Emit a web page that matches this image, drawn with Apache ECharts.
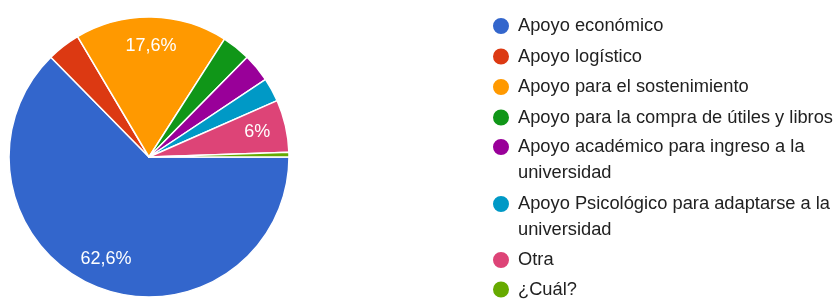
<!DOCTYPE html>
<html>
<head>
<meta charset="utf-8">
<script src="https://cdn.jsdelivr.net/npm/echarts@6/dist/echarts.min.js"></script>
<style>
 html, body { margin: 0; padding: 0; background: #fff; }
 #pie-chart { width: 838px; height: 300px; }
</style>
</head>
<body>
<div id="pie-chart"></div>
<script>
// respuestas por opción
const categories = [
 'Apoyo económico',
 'Apoyo logístico',
 'Apoyo para el sostenimiento',
 'Apoyo para la compra de útiles y libros',
 'Apoyo académico para ingreso a la universidad',
 'Apoyo Psicológico para adaptarse a la universidad',
 'Otra',
 '¿Cuál?'
]
const counts = [114, 7, 32, 6, 6, 5, 11, 1]
const colors = ['#3366cc', '#dc3912', '#ff9900', '#109618', '#990099', '#0099c6', '#dd4477', '#66aa00']

const pieData = categories.map((name, i) => ({ name: name, value: counts[i] }))
const FONT = '"Liberation Sans", Arial, sans-serif'

const fmtPercent = (p) => {
 if (p.percent < 5) return ''
 const v = Math.round(p.percent * 10) / 10
 return String(v).replace('.', ',') + '%'
}

// leyenda partida en bloques para que las entradas de dos líneas
// queden con el círculo junto a la primera línea
const makeLegend = (names, top, gap) => {
 return {
  orient: 'vertical',
  left: 491,
  top: top,
  height: 120,
  padding: 0,
  itemWidth: 18,
  itemHeight: 18,
  itemGap: gap,
  icon: 'circle',
  selectedMode: false,
  formatter: function (name) {
   if (name.indexOf(' a la universidad') >= 0) {
    return '\n' + name.replace(' a la universidad', ' a la\nuniversidad')
   }
   return name
  },
  textStyle: {
   fontFamily: FONT,
   fontSize: 18.3,
   lineHeight: 26,
   color: '#212121',
   padding: [0, 0, 0, 3]
  },
  data: names
 }
}

const setOption = () => {
 return {
  color: colors,
  animation: false,
  legend: [
   makeLegend(categories.slice(0, 4), 13, 4.5),
   makeLegend(categories.slice(4, 5), 108, 4),
   makeLegend(categories.slice(5, 6), 165, 4),
   makeLegend(categories.slice(6, 8), 247, 3.5)
  ],
  series: [
   {
    type: 'pie',
    center: [149, 157],
    radius: 140,
    startAngle: 0,
    clockwise: true,
    silent: true,
    label: { show: false },
    labelLine: { show: false },
    itemStyle: {
     borderColor: '#ffffff',
     borderWidth: 1.5
    },
    data: pieData
   },
   {
    // capa transparente solo para colocar las etiquetas
    type: 'pie',
    center: [149, 157],
    radius: [76, 140],
    startAngle: 0,
    clockwise: true,
    silent: true,
    itemStyle: { color: 'transparent', borderWidth: 0 },
    label: {
     show: true,
     position: 'inside',
     color: '#ffffff',
     fontFamily: FONT,
     fontSize: 18,
     formatter: fmtPercent
    },
    labelLine: { show: false },
    data: pieData
   }
  ]
 }
}

const chartDom = document.getElementById('pie-chart')
const myChart = echarts.init(chartDom)
myChart.setOption(setOption(), true)
window.addEventListener('resize', function () {
 myChart.resize()
})
</script>
</body>
</html>
